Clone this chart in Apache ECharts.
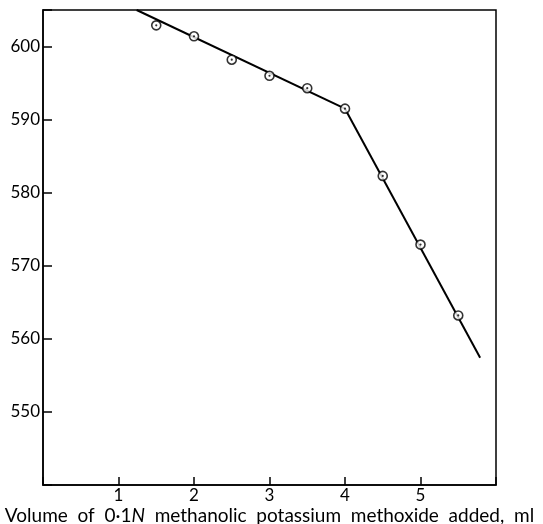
<!DOCTYPE html>
<html>
<head>
<meta charset="utf-8">
<script src="https://cdn.jsdelivr.net/npm/echarts@6/dist/echarts.min.js"></script>
<style>html,body{margin:0;padding:0;background:#fff}#c{width:543px;height:524px}</style>
</head>
<body>
<div id="c"></div>
<script>
// Measured points: volume (ml) vs reading
const volumes = [1.5, 2.0, 2.5, 3.0, 3.5, 4.0, 4.5, 5.0, 5.5];
const readings = [602.9, 601.4, 598.2, 596.0, 594.3, 591.5, 582.3, 572.9, 563.2];
// Fitted straight lines (endpoints)
const line1 = [[1.24, 605], [4.0, 591.5]];
const line2 = [[4.0, 591.5], [5.79, 557.4]];
const xTicks = [1, 2, 3, 4, 5];
const yTicks = [550, 560, 570, 580, 590, 600];

const pts = volumes.map((v, i) => [v, readings[i]]);
const font = 'Lato';
const chart = echarts.init(document.getElementById('c'));
chart.setOption({
  animation: false,
  backgroundColor: '#fff',
  grid: { left: 43, right: 47, top: 10, bottom: 39, show: true, borderColor: '#000', borderWidth: 1.5,
          outerBoundsMode: 'none', containLabel: false },
  xAxis: {
    type: 'value', min: 0, max: 6, interval: 1,
    axisLine: { lineStyle: { color: '#000', width: 1.5 } },
    axisTick: { inside: true, length: 8, lineStyle: { color: '#000', width: 1.5 } },
    splitLine: { show: false },
    axisLabel: {
      color: '#000', fontFamily: font, fontSize: 17, margin: 2,
      formatter: v => xTicks.includes(v) ? String(v) : ''
    },
    name: '{a|Volume  of  0·1}{b|N}{a|  methanolic  potassium  methoxide  added,  ml}',
    nameLocation: 'middle', nameGap: 21, nameMoveOverlap: false,
    nameTextStyle: {
      rich: {
        a: { fontFamily: font, fontSize: 19, color: '#000' },
        b: { fontFamily: font, fontSize: 19, color: '#000', fontStyle: 'italic' }
      }
    }
  },
  yAxis: {
    type: 'value', min: 540, max: 605, interval: 10,
    axisLine: { lineStyle: { color: '#000', width: 1.5 } },
    axisTick: { inside: true, length: 9, lineStyle: { color: '#000', width: 1.5 } },
    splitLine: { show: false },
    axisLabel: {
      color: '#000', fontFamily: font, fontSize: 17, margin: 3,
      formatter: v => yTicks.includes(v) ? String(v) : ''
    }
  },
  series: [
    { type: 'line', data: line1, symbol: 'none', lineStyle: { color: '#000', width: 2 }, z: 2 },
    { type: 'line', data: line2, symbol: 'none', lineStyle: { color: '#000', width: 2 }, z: 2 },
    { type: 'scatter', data: pts, symbol: 'circle', symbolSize: 9,
      itemStyle: { color: '#fff', borderColor: '#000', borderWidth: 1.6 }, z: 3 },
    { type: 'scatter', data: pts, symbol: 'circle', symbolSize: 2.2,
      itemStyle: { color: '#000' }, z: 4 }
  ]
});
</script>
</body>
</html>
